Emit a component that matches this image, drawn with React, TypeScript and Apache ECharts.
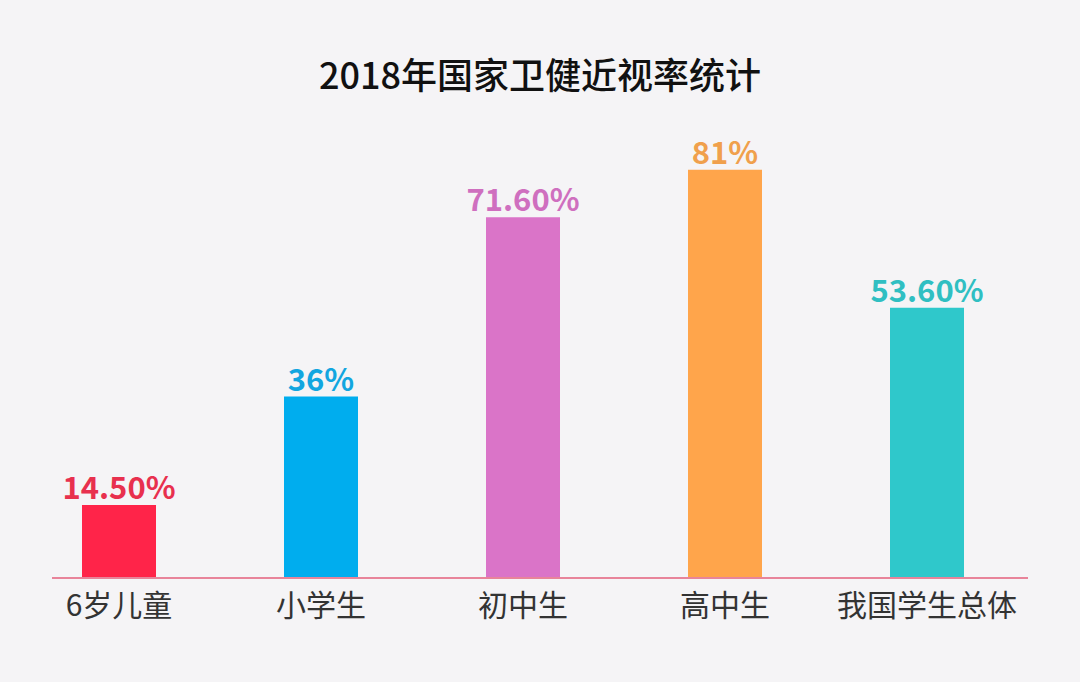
import React, { useEffect, useRef } from "react";
import * as echarts from "echarts";

const categories = ["6岁儿童", "小学生", "初中生", "高中生", "我国学生总体"];
const values = [14.5, 36, 71.6, 81, 53.6];
const valueLabels = ["14.50%", "36%", "71.60%", "81%", "53.60%"];
const barColors = ["#ff2449", "#00adee", "#da74c8", "#ffa54b", "#2fc8cb"];
const labelColors = ["#e8304e", "#12a6e0", "#cf6fbf", "#f0a04c", "#30bfc2"];

export default function App() {
  const ref = useRef<HTMLDivElement>(null);
  useEffect(() => {
    if (!ref.current) return;
    const chart = echarts.init(ref.current, undefined, { renderer: "svg" });
    chart.setOption({
      animation: false,
      backgroundColor: "#f5f4f6",
      title: {
        text: "2018年国家卫健近视率统计",
        left: "center",
        top: 50,
        textStyle: {
          fontFamily: "Noto Sans CJK SC",
          fontSize: 36,
          fontWeight: 500,
          color: "#111111",
        },
      },
      grid: { left: 18, right: 52, top: 74, bottom: 104, containLabel: false },
      xAxis: {
        type: "category",
        data: categories,
        axisLine: { show: false },
        axisTick: { show: false },
        axisLabel: {
          interval: 0,
          fontFamily: "Noto Sans CJK SC",
          fontSize: 30,
          color: "#333333",
          margin: 10,
        },
      },
      yAxis: {
        type: "value",
        min: 0,
        max: 100,
        show: false,
        splitLine: { show: false },
      },
      graphic: [
        {
          type: "line",
          shape: { x1: 52, y1: 578, x2: 1028, y2: 578 },
          style: { stroke: "#e8849a", lineWidth: 2 },
          z: 10,
        },
      ],
      series: [
        {
          type: "bar",
          barWidth: 74,
          data: values.map((v, i) => ({
            value: v,
            itemStyle: { color: barColors[i] },
            label: {
              show: true,
              position: "top",
              distance: 4,
              formatter: valueLabels[i],
              color: labelColors[i],
              fontFamily: "Noto Sans CJK SC",
              fontWeight: "bold",
              fontSize: 31,
            },
          })),
        },
      ],
    });
    return () => chart.dispose();
  }, []);
  return (
    <div
      ref={ref}
      style={{ position: "fixed", left: 0, top: 0, width: 1080, height: 682 }}
    />
  );
}
